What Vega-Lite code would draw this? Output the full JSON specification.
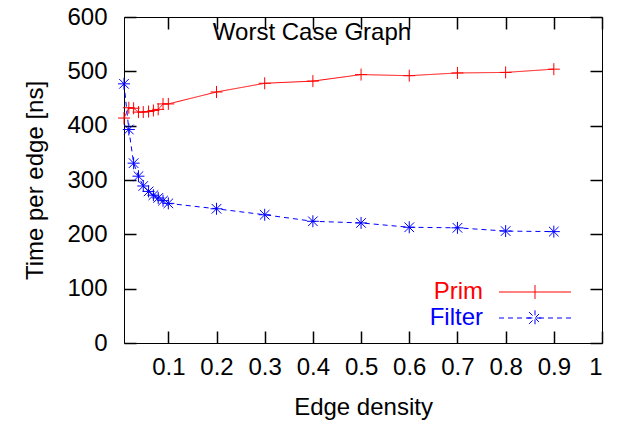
{
  "$schema": "https://vega.github.io/schema/vega-lite/v6.json",
  "width": 478,
  "height": 326,
  "autosize": {"type": "none"},
  "padding": {"left": 124, "top": 17, "right": 18, "bottom": 79},
  "background": "white",
  "title": {"text": "Worst Case Graph", "anchor": "middle", "frame": "group", "dx": -51, "offset": -59, "fontSize": 24, "font": "Liberation Sans", "fontWeight": "normal", "color": "black", "baseline": "alphabetic"},
  "data": {"values": [
    {"series": "Prim", "density": 0.008, "time": 414},
    {"series": "Prim", "density": 0.018, "time": 433},
    {"series": "Prim", "density": 0.028, "time": 432},
    {"series": "Prim", "density": 0.038, "time": 425},
    {"series": "Prim", "density": 0.048, "time": 425},
    {"series": "Prim", "density": 0.059, "time": 426},
    {"series": "Prim", "density": 0.069, "time": 428},
    {"series": "Prim", "density": 0.079, "time": 430},
    {"series": "Prim", "density": 0.089, "time": 440},
    {"series": "Prim", "density": 0.1, "time": 440},
    {"series": "Prim", "density": 0.2, "time": 462},
    {"series": "Prim", "density": 0.3, "time": 478},
    {"series": "Prim", "density": 0.4, "time": 482},
    {"series": "Prim", "density": 0.5, "time": 494},
    {"series": "Prim", "density": 0.6, "time": 492},
    {"series": "Prim", "density": 0.7, "time": 497},
    {"series": "Prim", "density": 0.8, "time": 498},
    {"series": "Prim", "density": 0.9, "time": 504},
    {"series": "Filter", "density": 0.008, "time": 477},
    {"series": "Filter", "density": 0.018, "time": 393},
    {"series": "Filter", "density": 0.028, "time": 331},
    {"series": "Filter", "density": 0.038, "time": 307},
    {"series": "Filter", "density": 0.048, "time": 289},
    {"series": "Filter", "density": 0.059, "time": 279},
    {"series": "Filter", "density": 0.069, "time": 272},
    {"series": "Filter", "density": 0.079, "time": 267},
    {"series": "Filter", "density": 0.089, "time": 262},
    {"series": "Filter", "density": 0.1, "time": 257},
    {"series": "Filter", "density": 0.2, "time": 247},
    {"series": "Filter", "density": 0.3, "time": 236},
    {"series": "Filter", "density": 0.4, "time": 224},
    {"series": "Filter", "density": 0.5, "time": 221},
    {"series": "Filter", "density": 0.6, "time": 213},
    {"series": "Filter", "density": 0.7, "time": 212},
    {"series": "Filter", "density": 0.8, "time": 206},
    {"series": "Filter", "density": 0.9, "time": 205}
  ]},
  "layer": [
    {
      "mark": {"type": "line", "strokeWidth": 1, "clip": false},
      "encoding": {
        "x": {"field": "density", "type": "quantitative", "scale": {"domain": [0.008, 1], "nice": false, "zero": false},
              "axis": {"orient": "bottom", "values": [0.1, 0.2, 0.3, 0.4, 0.5, 0.6, 0.7, 0.8, 0.9, 1], "format": "~g", "labelPadding": 24, "title": "Edge density", "titlePadding": 16}},
        "y": {"field": "time", "type": "quantitative", "scale": {"domain": [0, 600], "nice": false, "zero": false},
              "axis": {"orient": "left", "values": [0, 100, 200, 300, 400, 500, 600], "labelPadding": 29, "title": "Time per edge [ns]", "titlePadding": 19}},
        "color": {"field": "series", "type": "nominal", "scale": {"domain": ["Prim", "Filter"], "range": ["#ff0000", "#0000ff"]},
          "legend": {"orient": "none", "legendX": 399, "legendY": 263, "title": null, "symbolSize": 196, "symbolStrokeWidth": 1,
            "labelFontSize": 24, "labelFont": "Liberation Sans", "labelAlign": "right", "labelOffset": -64, "rowPadding": 2,
            "encoding": {
              "symbols": {
                "shape": {"condition": {"test": "datum.value === 'Prim'", "value": "M-5.143,0L5.143,0M0,-1L0,1"}, "value": "M-5.143,0L-4.429,0M-3.857,0L-3.143,0M-2.571,0L-1.857,0M-1.286,0L-0.571,0M0.571,0L1.286,0M1.857,0L2.571,0M3.143,0L3.857,0M4.429,0L5.143,0M-1.1,0L1.1,0M0,-1.1L0,1.1M-0.85,-0.85L0.85,0.85M-0.85,0.85L0.85,-0.85"},
                "strokeDash": {"value": [1, 0]}
              },
              "labels": {
                "fill": {"condition": {"test": "datum.value === 'Prim'", "value": "#ff0000"}, "value": "#0000ff"}
              }
            }
          }},
        "strokeDash": {"field": "series", "type": "nominal", "scale": {"domain": ["Prim", "Filter"], "range": [[1, 0], [5, 4]]}, "legend": null}
      }
    },
    {
      "transform": [{"filter": "datum.series === 'Prim'"}],
      "mark": {"type": "point", "filled": false, "strokeWidth": 1, "opacity": 1, "size": 144, "clip": false, "shape": "M-1,0L1,0M0,-1L0,1"},
      "encoding": {
        "x": {"field": "density", "type": "quantitative", "axis": {"orient": "top", "values": [0.1, 0.2, 0.3, 0.4, 0.5, 0.6, 0.7, 0.8, 0.9, 1], "labels": false, "title": null}},
        "y": {"field": "time", "type": "quantitative", "axis": {"orient": "right", "values": [0, 100, 200, 300, 400, 500, 600], "labels": false, "title": null}},
        "color": {"field": "series", "type": "nominal", "legend": null}
      }
    },
    {
      "transform": [{"filter": "datum.series === 'Filter'"}],
      "mark": {"type": "point", "filled": false, "strokeWidth": 1, "opacity": 1, "size": 144, "clip": false, "shape": "M-1,0L1,0M0,-1L0,1M-0.8,-0.8L0.8,0.8M-0.8,0.8L0.8,-0.8"},
      "encoding": {
        "x": {"field": "density", "type": "quantitative", "axis": null},
        "y": {"field": "time", "type": "quantitative", "axis": null},
        "color": {"field": "series", "type": "nominal", "legend": null}
      }
    }
  ],
  "resolve": {"axis": {"x": "independent", "y": "independent"}},
  "config": {
    "font": "Liberation Sans",
    "view": {"stroke": "black", "strokeWidth": 1},
    "axis": {"labelFont": "Liberation Sans", "labelFontSize": 24, "labelColor": "black", "titleFont": "Liberation Sans", "titleFontSize": 24, "titleFontWeight": "normal", "titleColor": "black", "domain": false, "grid": false,
             "ticks": true, "tickSize": -12, "tickWidth": 1.5, "tickColor": "#000000", "tickOpacity": 1}
  }
}
